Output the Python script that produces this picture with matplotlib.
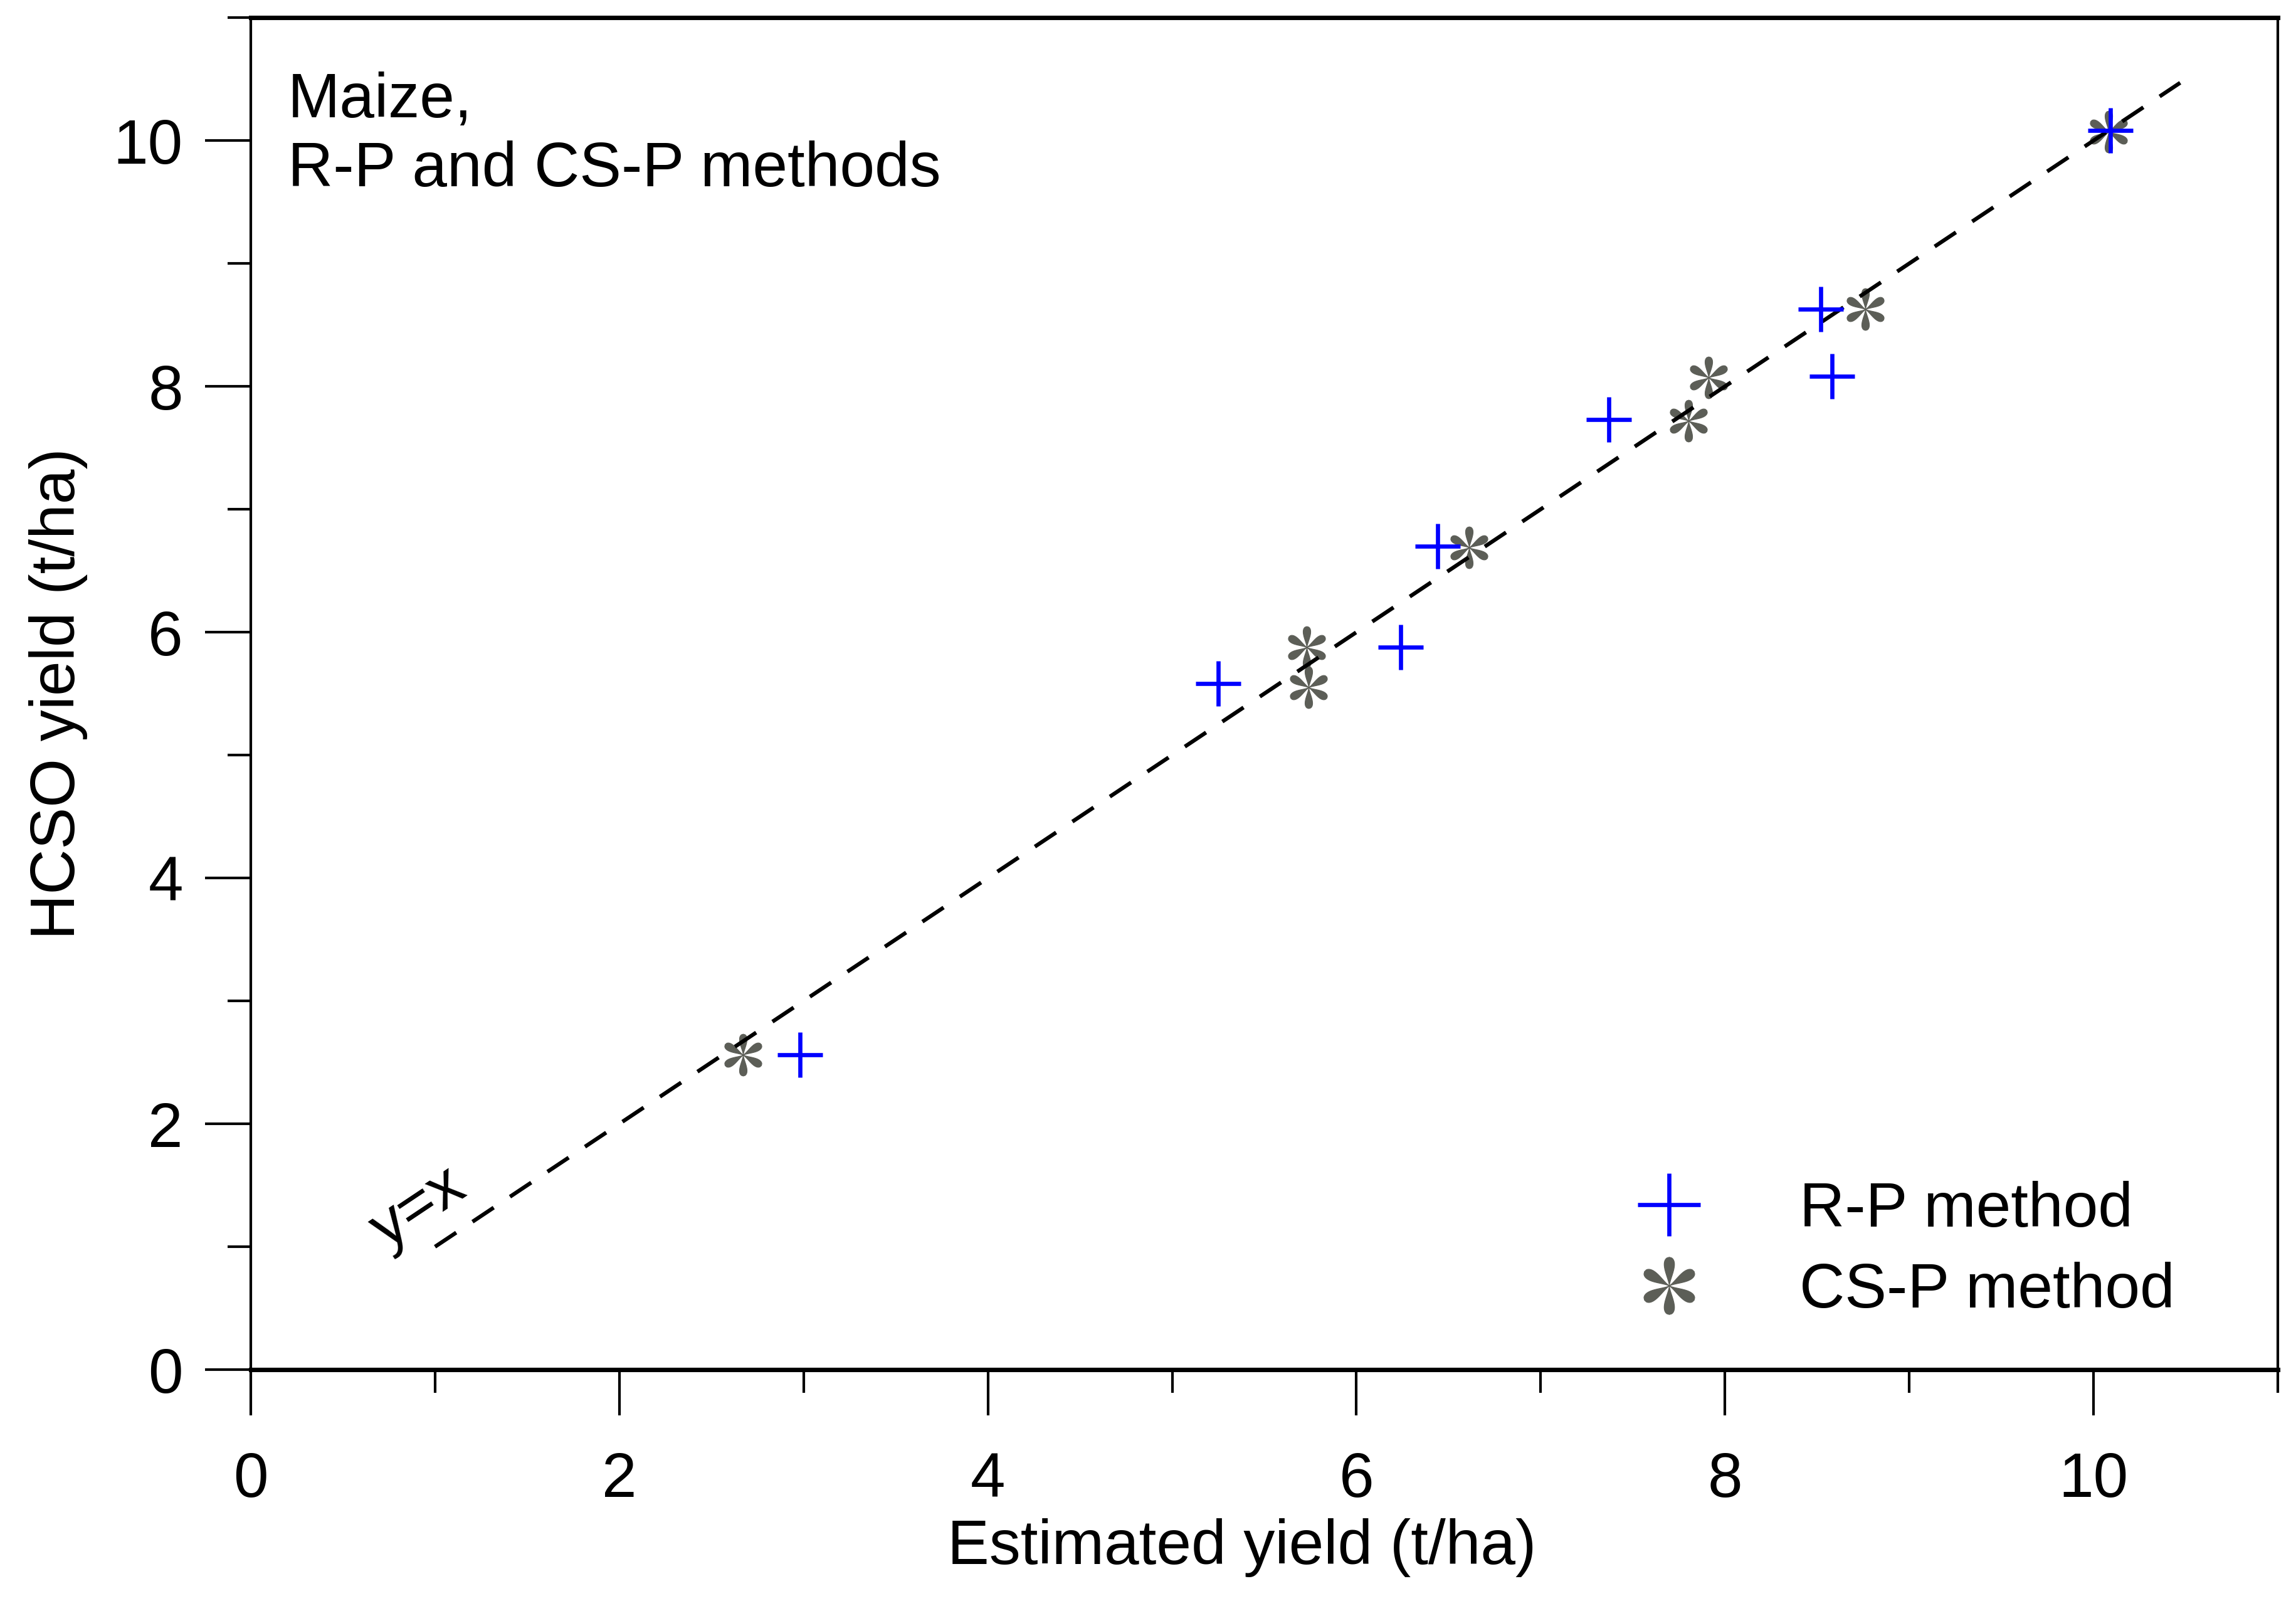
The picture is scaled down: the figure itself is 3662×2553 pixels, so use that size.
import numpy as np
import matplotlib
matplotlib.use("Agg")
import matplotlib.pyplot as plt
from matplotlib.path import Path
from matplotlib.ticker import MultipleLocator

plt.rcParams['font.family'] = ['Liberation Sans', 'DejaVu Sans']

# values (t/ha)
rp_est = [2.98, 5.25, 6.24, 6.44, 7.37, 8.58, 8.52, 10.09]
rp_hcso = [2.56, 5.58, 5.88, 6.70, 7.73, 8.08, 8.63, 10.08]
csp_est = [2.67, 5.73, 5.74, 6.61, 7.80, 7.91, 8.76, 10.08]
csp_hcso = [2.56, 5.88, 5.55, 6.69, 7.72, 8.07, 8.63, 10.07]
line_ends = [1.0, 10.47]

labels = ["R-P method", "CS-P method"]
note = ["Maize,", "R-P and CS-P methods"]


def petal_star():
    # six rounded petals, one arm pointing straight up
    u = np.linspace(0, 1, 40)
    w = 0.55 * u**1.5 * np.sqrt(1 - u)
    verts, codes = [], []
    for k in range(6):
        th = np.pi / 2 + k * np.pi / 3
        d = np.array([np.cos(th), np.sin(th)])
        n = np.array([-np.sin(th), np.cos(th)])
        a = u[:, None] * d + w[:, None] * n
        b = u[::-1][:, None] * d - w[::-1][:, None] * n
        pts = np.vstack([a, b, a[:1]])
        verts.extend(pts)
        codes += [Path.MOVETO] + [Path.LINETO] * (len(pts) - 2) + [Path.CLOSEPOLY]
    return Path(np.array(verts), codes)


fig = plt.figure(figsize=(3662 / 300, 2553 / 300), dpi=300)
ax = fig.add_axes([0.1092, 0.1445, 0.8829, 0.8445])

star = petal_star()
h2, = ax.plot(csp_est, csp_hcso, ls='none', marker=star, ms=16,
              mfc='#5c5e57', mec='#5c5e57', mew=0.3, zorder=2, label=labels[1])
ax.plot(line_ends, line_ends, color='black', lw=1.5, ls=(0, (6.5, 5.0)), zorder=3)
h1, = ax.plot(rp_est, rp_hcso, ls='none', marker='+', ms=17.5, mew=1.6,
              color='#0000ff', zorder=4, label=labels[0])

ax.text(0.91, 1.31, "y=x", fontsize=24, rotation=33.7, rotation_mode='anchor',
        ha='center', va='center')
ax.text(0.2, 10.19, note[0], fontsize=24, ha='left', va='baseline')
ax.text(0.2, 9.63, note[1], fontsize=24, ha='left', va='baseline')

ax.set_xlim(0, 11)
ax.set_ylim(0, 11)
ax.xaxis.set_major_locator(MultipleLocator(2))
ax.xaxis.set_minor_locator(MultipleLocator(1))
ax.yaxis.set_major_locator(MultipleLocator(2))
ax.yaxis.set_minor_locator(MultipleLocator(1))

ax.tick_params(which='both', direction='out', width=1.0, labelsize=24)
ax.tick_params(which='major', length=17.5)
ax.tick_params(which='minor', length=8.9)
ax.tick_params(axis='x', which='major', pad=13.7)
ax.tick_params(axis='y', which='major', pad=8.4)

for s in ['top', 'bottom']:
    ax.spines[s].set_linewidth(1.7)
for s in ['left', 'right']:
    ax.spines[s].set_linewidth(1.0)

ax.set_xlabel("Estimated yield (t/ha)", fontsize=24)
ax.set_ylabel("HCSO yield (t/ha)", fontsize=24)
ax.xaxis.set_label_coords(0.489, -0.110)
ax.yaxis.set_label_coords(-0.0805, 0.5)

ax.legend(handles=[h1, h2], loc='lower right', bbox_to_anchor=(0.949, 0.036),
          frameon=False, fontsize=24, markerscale=1.37, handlelength=2.0,
          handletextpad=1.08, labelspacing=0.35, borderpad=0, borderaxespad=0)

fig.savefig("out.png", dpi=300)
